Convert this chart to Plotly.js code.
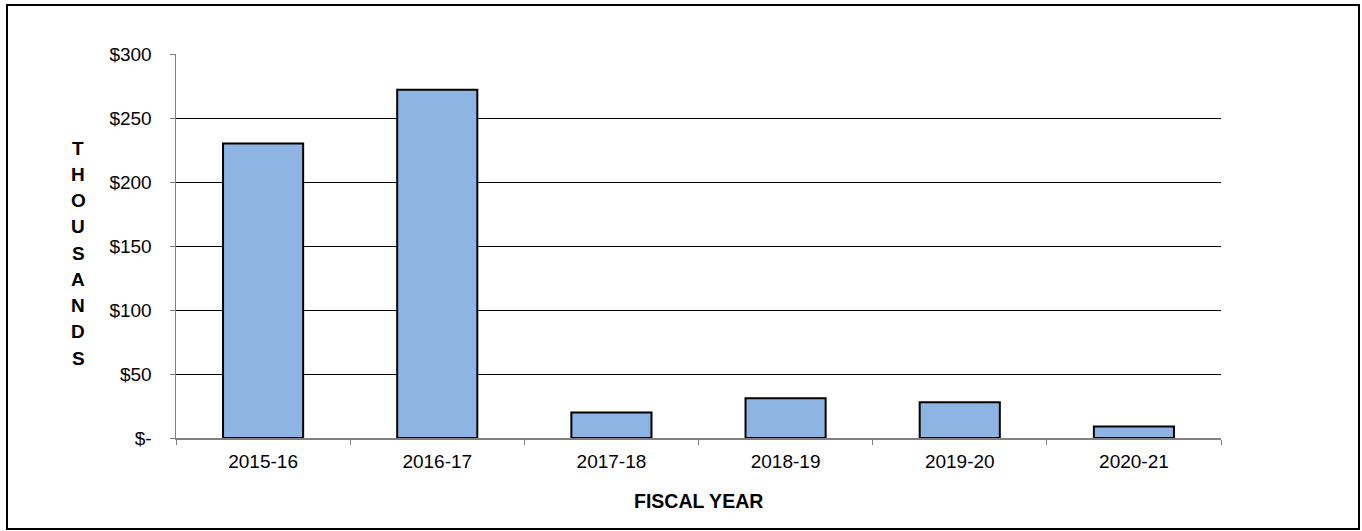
<!DOCTYPE html>
<html>
<head>
<meta charset="utf-8">
<script src="https://cdn.plot.ly/plotly-3.0.1.min.js"></script>
<style>
  html, body { margin: 0; padding: 0; background: #fff; }
  #chart { position: absolute; left: 0; top: 0; width: 1362px; height: 531px; }
  #frame { position: absolute; left: 6px; top: 4px; width: 1350px; height: 522px;
           border: 2px solid #000; pointer-events: none; }
</style>
</head>
<body>
<div id="chart"></div>
<div id="frame"></div>
<script>
// Data (values in thousands of dollars)
const fiscalYears = ["2015-16", "2016-17", "2017-18", "2018-19", "2019-20", "2020-21"];
const amounts = [230, 272, 20, 31, 28, 9];
const yTickVals = [0, 50, 100, 150, 200, 250, 300];
const yTickText = ["$-", "$50", "$100", "$150", "$200", "$250", "$300"];
const yTitle = "THOUSANDS";
const xTitle = "FISCAL YEAR";

const FONT = "Arial, 'Liberation Sans', sans-serif";
const plotLeft = 176, plotRight = 1221, plotTop = 54, plotBottom = 438;
const W = 1362, H = 531;
const pw = plotRight - plotLeft, ph = plotBottom - plotTop;

const annotations = [];
// Vertical stacked y-axis title
yTitle.split("").forEach((ch, i) => {
  const ypx = 148 + i * 26.25;
  annotations.push({
    text: ch, xref: "paper", yref: "paper",
    x: (78 - plotLeft) / pw, y: (plotBottom - ypx) / ph,
    xanchor: "center", yanchor: "middle", showarrow: false,
    font: { family: FONT, size: 19, color: "#000", weight: "bold" }
  });
});
annotations.push({
  text: "<b>" + xTitle + "</b>", xref: "paper", yref: "paper",
  x: 0.5, y: 0, yshift: -63, xanchor: "center", yanchor: "middle", showarrow: false,
  font: { family: FONT, size: 19.5, color: "#000" }
});

const trace = {
  type: "bar",
  x: fiscalYears,
  y: amounts,
  marker: { color: "#8EB4E3", line: { color: "#000", width: 2 } },
  hoverinfo: "none"
};

const layout = {
  width: W, height: H,
  margin: { l: plotLeft, r: W - plotRight, t: plotTop, b: H - plotBottom, pad: 0 },
  paper_bgcolor: "rgba(0,0,0,0)", plot_bgcolor: "#fff",
  bargap: 0.54,
  showlegend: false,
  font: { family: FONT, size: 19, color: "#000" },
  xaxis: {
    type: "category",
    showline: true, linecolor: "#808080", linewidth: 1.5,
    ticks: "outside", tickson: "boundaries", ticklen: 5, tickcolor: "#808080", tickwidth: 1,
    showgrid: false, zeroline: false,
    tickfont: { family: FONT, size: 19, color: "#000" },
    ticklabelstandoff: 6
  },
  yaxis: {
    range: [0, 300], tickvals: yTickVals, ticktext: yTickText,
    showline: true, linecolor: "#808080", linewidth: 1.5,
    ticks: "outside", ticklen: 5, tickcolor: "#808080", tickwidth: 1,
    showgrid: true, gridcolor: "#000", gridwidth: 1,
    zeroline: false,
    tickfont: { family: FONT, size: 19, color: "#000" },
    ticklabelstandoff: 14
  },
  annotations: annotations
};

Plotly.newPlot("chart", [trace], layout, { staticPlot: true, displayModeBar: false });
</script>
</body>
</html>
